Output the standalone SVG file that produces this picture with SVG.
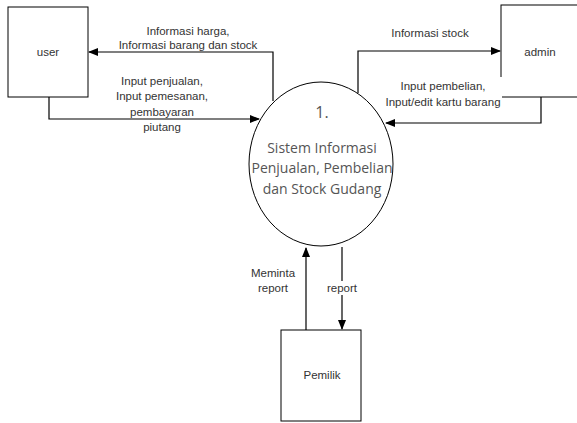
<svg xmlns="http://www.w3.org/2000/svg" width="577" height="423" viewBox="0 0 577 423">
<style>
.box{fill:#fff;stroke:#000;stroke-width:1}
.ln{fill:none;stroke:#000;stroke-width:1.2;marker-end:url(#ah)}
.t{font-family:"Liberation Sans",Arial,sans-serif;font-size:11.5px;fill:#333;text-anchor:middle;dominant-baseline:central}
.c{font-family:"Open Sans","Noto Sans",sans-serif;font-size:14px;fill:#555;text-anchor:middle;dominant-baseline:central}
</style>
<defs>
<marker id="ah" markerWidth="10" markerHeight="8" refX="9" refY="4" orient="auto" markerUnits="userSpaceOnUse">
<path d="M0,0 L10,4 L0,8 z" fill="#000"/>
</marker>
</defs>
<rect width="577" height="423" fill="#fff"/>
<g id="connectors">
<polyline class="ln" points="273,101 273,52 89,52"/>
<polyline class="ln" points="49,97 49,119 259,119"/>
<polyline class="ln" points="358,93 358,51 500,51"/>
<polyline class="ln" points="541,97 541,123 386,123"/>
<polyline class="ln" points="306,330 306,248"/>
<polyline class="ln" points="342,247 342,329"/>
</g>
<g id="user">
<rect class="box" x="8" y="7" width="80" height="90"/>
<text class="t" x="48" y="52">user</text>
</g>
<g id="admin">
<rect class="box" x="501" y="5" width="80" height="92"/>
<text class="t" x="540" y="52">admin</text>
</g>
<g id="pemilik">
<rect class="box" x="281" y="330" width="80" height="91"/>
<text class="t" x="322" y="375">Pemilik</text>
</g>
<g id="process">
<ellipse cx="321" cy="164" rx="72" ry="82" fill="#fff" stroke="#000" stroke-width="1"/>
<text class="c" x="322" y="112" style="font-size:16px">1.</text>
<text class="c" x="322" y="147">Sistem Informasi</text>
<text class="c" x="322" y="167">Penjualan, Pembelian</text>
<text class="c" x="322" y="188">dan Stock Gudang</text>
</g>
<g id="labels">
<text class="t" x="188" y="31">Informasi harga,</text>
<text class="t" x="188" y="45">Informasi barang dan stock</text>
<text class="t" x="162" y="81">Input penjualan,</text>
<text class="t" x="162" y="96">Input pemesanan,</text>
<text class="t" x="162" y="112">pembayaran</text>
<text class="t" x="162" y="127">piutang</text>
<text class="t" x="430" y="33">Informasi stock</text>
<rect x="386" y="77" width="116" height="30" fill="#fff"/>
<text class="t" x="443" y="86">Input pembelian,</text>
<text class="t" x="443" y="102">Input/edit kartu barang</text>
<text class="t" x="273" y="273">Meminta</text>
<text class="t" x="273" y="288">report</text>
<rect x="325" y="281" width="34" height="14" fill="#fff"/>
<text class="t" x="342" y="288">report</text>
</g>
</svg>
